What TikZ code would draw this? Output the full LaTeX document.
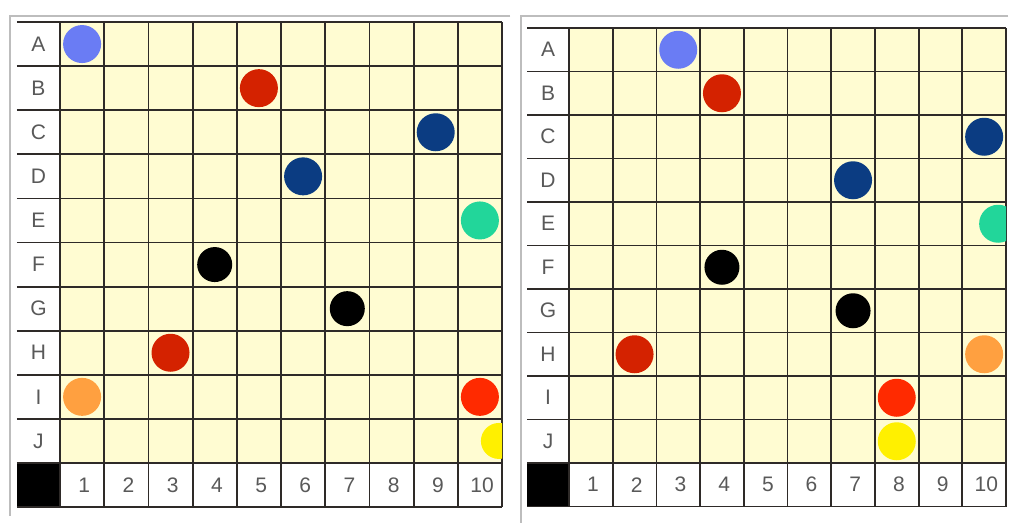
\documentclass[tikz,border=0pt]{standalone}
\usepackage{fontspec}
\setmainfont{Liberation Sans}
\definecolor{cream}{HTML}{FFFCD2}
\definecolor{gridc}{HTML}{2E2A28}
\definecolor{framec}{HTML}{BDBDBD}
\definecolor{lblue}{HTML}{6A7CF4}
\definecolor{dred}{HTML}{D42200}
\definecolor{bred}{HTML}{FF2A00}
\definecolor{dblue}{HTML}{0B3C82}
\definecolor{mint}{HTML}{22D69A}
\definecolor{orng}{HTML}{FFA040}
\definecolor{yell}{HTML}{FFF000}
\tikzset{
  gridline/.style={draw=gridc, line width=1.8pt},
  frameline/.style={draw=framec, line width=2pt},
  dot/.style={circle, minimum size=38pt, inner sep=0pt, draw=none},
  lbl/.style={font=\fontsize{21}{24}\selectfont, text=black!65, inner sep=0pt}
}
\newcommand\gridpanel[2]{% #1 prefix, #2 label column width (units)
  \fill[cream] (0,0) rectangle (10,10);
  \fill[white] (-#2,0) rectangle (0,10);
  \fill[white] (0,10) rectangle (10,11);
  \fill[black] (-#2,10) rectangle (0,11);
  \foreach \i in {0,...,10} \draw[gridline] (\i,0) -- (\i,11);
  \foreach \j in {0,...,11} \draw[gridline] (-#2,\j) -- (10,\j);
  \foreach \l [count=\r] in {A,B,C,D,E,F,G,H,I,J}
    \node[lbl] (#1-r\l) at (-#2/2,\r-0.5) {\l};
  \foreach \c in {1,...,10}
    \node[lbl] (#1-c\c) at (\c-0.45,10.5) {\c};
}
\begin{document}
\begin{tikzpicture}[x=1pt,y=-1pt]
\useasboundingbox (0,0) rectangle (1011,523);
\fill[white] (0,0) rectangle (1011,523);
% frames
\draw[frameline] (510,16) -- (10,16) -- (10,516);
\draw[frameline] (1008,16) -- (521,16) -- (521,523);
% left panel
\begin{scope}[shift={(60,22)}, x=44.2pt, y=-44.1pt]
  \gridpanel{L}{0.973}
  \begin{scope}
    \clip (0,0) rectangle (10,10);
    \node[dot, fill=lblue] (L-A1) at (0.5,0.5) {};
    \node[dot, fill=dred]  (L-B5) at (4.5,1.5) {};
    \node[dot, fill=dblue] (L-C9) at (8.5,2.5) {};
    \node[dot, fill=dblue] (L-D6) at (5.5,3.5) {};
    \node[dot, fill=mint]  (L-E10) at (9.5,4.5) {};
    \node[dot, fill=black, minimum size=35pt] (L-F4) at (3.5,5.5) {};
    \node[dot, fill=black, minimum size=35pt] (L-G7) at (6.5,6.5) {};
    \node[dot, fill=dred]  (L-H3) at (2.5,7.5) {};
    \node[dot, fill=orng]  (L-I1) at (0.5,8.5) {};
    \node[dot, fill=bred]  (L-I10) at (9.5,8.5) {};
    \node[dot, fill=yell, minimum size=36pt] (L-J10) at (9.93,9.5) {};
  \end{scope}
\end{scope}
% right panel
\begin{scope}[shift={(569,28)}, x=43.7pt, y=-43.5pt]
  \gridpanel{R}{0.961}
  \begin{scope}
    \clip (0,0) rectangle (10,10);
    \node[dot, fill=lblue] (R-A3) at (2.5,0.5) {};
    \node[dot, fill=dred]  (R-B4) at (3.5,1.5) {};
    \node[dot, fill=dblue] (R-C10) at (9.5,2.5) {};
    \node[dot, fill=dblue] (R-D7) at (6.5,3.5) {};
    \node[dot, fill=mint]  (R-E10) at (9.82,4.5) {};
    \node[dot, fill=black, minimum size=35pt] (R-F4) at (3.5,5.5) {};
    \node[dot, fill=black, minimum size=35pt] (R-G7) at (6.5,6.5) {};
    \node[dot, fill=dred]  (R-H2) at (1.5,7.5) {};
    \node[dot, fill=orng]  (R-H10) at (9.5,7.5) {};
    \node[dot, fill=bred]  (R-I8) at (7.5,8.5) {};
    \node[dot, fill=yell]  (R-J8) at (7.5,9.5) {};
  \end{scope}
\end{scope}
\end{tikzpicture}
\end{document}
